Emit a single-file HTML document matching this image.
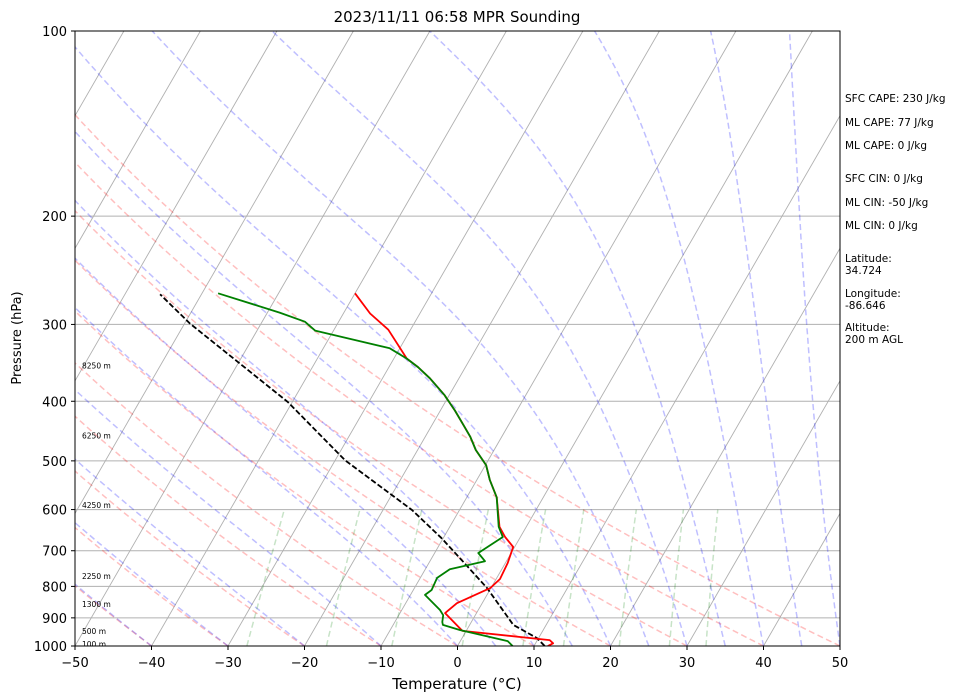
<!DOCTYPE html>
<html><head><meta charset="utf-8"><style>
body{margin:0;background:#fff;}
svg{display:block;font-family:"DejaVu Sans","Liberation Sans",sans-serif;}
</style></head><body>
<svg id="chart" width="961" height="700" viewBox="0 0 961 700">
<defs><clipPath id="clip"><rect x="75" y="31" width="765" height="615"/></clipPath></defs>
<rect x="0" y="0" width="961" height="700" fill="#fff"/>
<g id="bg" clip-path="url(#clip)"></g>
<g id="series" clip-path="url(#clip)"></g>
<rect x="75" y="31" width="765" height="615" fill="none" stroke="#000" stroke-width="1"/>
<g id="axes"></g>
<text x="457" y="22" text-anchor="middle" font-size="15">2023/11/11 06:58 MPR Sounding</text>
<text x="457" y="689" text-anchor="middle" font-size="15">Temperature (°C)</text>
<text x="21" y="338" text-anchor="middle" font-size="13" transform="rotate(-90 21 338)">Pressure (hPa)</text>
<g font-size="10.5">
<text x="845" y="102">SFC CAPE: 230 J/kg</text>
<text x="845" y="126">ML CAPE: 77 J/kg</text>
<text x="845" y="149">ML CAPE: 0 J/kg</text>
<text x="845" y="182">SFC CIN: 0 J/kg</text>
<text x="845" y="206">ML CIN: -50 J/kg</text>
<text x="845" y="229">ML CIN: 0 J/kg</text>
<text x="845" y="262">Latitude:</text>
<text x="845" y="274">34.724</text>
<text x="845" y="297">Longitude:</text>
<text x="845" y="309">-86.646</text>
<text x="845" y="331">Altitude:</text>
<text x="845" y="343">200 m AGL</text>
</g>
</svg>
<script>
const tempP=[1000,990,978,945,884,852,805,778,733,690,665,640,573,537,508,480,457,437,414,391,367,352,341,306,288,267];
const tempT=[11.8,12.3,11.6,-0.5,-4.1,-3.3,-0.1,0.5,0.3,-0.2,-2.0,-3.5,-6.1,-8.3,-9.9,-12.4,-14.1,-15.9,-18.1,-20.6,-23.8,-26.2,-28.3,-32.9,-36.5,-40.0];
const dewP=[1000,982,942,924,914,891,874,826,811,775,750,728,706,665,640,573,537,508,480,457,437,414,391,367,352,341,328,318,307,297,287,267];
const dewT=[7.2,6.2,-0.9,-3.5,-3.8,-4.2,-5.0,-8.1,-7.6,-7.8,-6.8,-2.8,-4.3,-2.3,-3.6,-6.1,-8.3,-9.9,-12.4,-14.1,-15.9,-18.1,-20.6,-23.8,-26.2,-28.3,-31.3,-36.5,-42.4,-44.4,-48.4,-57.9];
const parcelP=[1000,971,924,805,741,668,601,499,401,299,268];
const parcelT=[11.4,9.8,5.7,-0.5,-4.8,-10.2,-16.2,-28.7,-40.6,-59.3,-65.4];
const pTicks=[100,200,300,400,500,600,700,800,900,1000];
const tTicks=[-50,-40,-30,-20,-10,0,10,20,30,40,50];
const heightLabels=["8250 m","6250 m","4250 m","2250 m","1300 m","500 m","100 m"];
const heightLabelP=[350,455,590,770,855,945,993];

const NS="http://www.w3.org/2000/svg";
const X0=75,X1=840,Y0=31,Y1=646,SK=0.577;
function yOf(p){return Y1-(Y1-Y0)*Math.log10(1000/p);}
function xOf(t,p){return X0+(t+50)*(X1-X0)/100+SK*(Y1-yOf(p));}
function mk(tag,attrs,parent){const e=document.createElementNS(NS,tag);for(const k in attrs)e.setAttribute(k,attrs[k]);parent.appendChild(e);return e;}
const bg=document.getElementById('bg'),ser=document.getElementById('series'),ax=document.getElementById('axes');
function path(ps,ts,parent,stroke,w,dash,op,name){
  let d='';for(let i=0;i<ps.length;i++){d+=(i?'L':'M')+xOf(ts[i],ps[i]).toFixed(1)+','+yOf(ps[i]).toFixed(1);}
  const e=mk('path',{d:d,fill:'none',stroke:stroke,'stroke-width':w,'stroke-opacity':op,'stroke-linejoin':'round'},parent);
  if(dash)e.setAttribute('stroke-dasharray',dash);
  
  
  return e;
}
pTicks.forEach(p=>{const l=mk('line',{x1:X0,x2:X1,y1:yOf(p),y2:yOf(p),stroke:'#b0b0b0','stroke-width':1},bg);

});
for(let t=-100;t<=50;t+=10){path([1000,100],[t,t],bg,'#b0b0b0',0.9,null,1,'isotherm');}
const pLev=[];for(let p=1000;p>=100;p-=10)pLev.push(p);
for(let th=-40;th<=50;th+=10){const ts=pLev.map(p=>(th+273.15)*Math.pow(p/1000,0.2857)-273.15);path(pLev,ts,bg,'#ff0000',1.5,'6,3.5',0.25,'dry-adiabat');}
function es(t){return 6.112*Math.exp(17.67*t/(t+243.5));}
const moistT0=[-50,-40,-30,-20,-10,0,5,10,15,20,25,30,35,40,45,50];
moistT0.forEach(t0=>{let T=t0+273.15;const ps=[1000],ts=[t0];
  for(let p=1000;p>100;p-=5){const e=es(T-273.15),rs=0.622*e/(p-e),Rd=287.04,Lv=2.501e6,Cp=1005.7;
    const dTdp=(1/p)*(Rd*T+Lv*rs)/(Cp+Lv*Lv*rs*0.622/(Rd*T*T));T-=dTdp*5;ps.push(p-5);ts.push(T-273.15);}
  path(ps,ts,bg,'#0000ff',1.5,'6,3.5',0.25,'moist-adiabat');});
[0.0004,0.001,0.002,0.004,0.007,0.01,0.016,0.024,0.032].forEach(w=>{const ps=[],ts=[];
  for(let p=1000;p>=600;p-=20){const e=p*w/(0.622+w),l=Math.log(e/6.112);ps.push(p);ts.push(243.5*l/(17.67-l));}
  path(ps,ts,bg,'#008000',1.5,'6,3.5',0.22,'mixing-ratio-line');});
path(parcelP,parcelT,ser,'#000',1.8,'5.5,2.4',1,'parcel-profile');
path(tempP,tempT,ser,'#ff0000',1.8,null,1,'temperature-profile');
path(dewP,dewT,ser,'#008000',1.8,null,1,'dewpoint-profile');
heightLabels.forEach((s,i)=>{const t=mk('text',{x:82,y:yOf(heightLabelP[i])+3,'font-size':7.5},bg);t.textContent=s;

});
pTicks.forEach(p=>{const y=yOf(p);mk('line',{x1:X0-4,x2:X0,y1:y,y2:y,stroke:'#000'},ax);
const t=mk('text',{x:X0-8,y:y+5,'text-anchor':'end','font-size':13},ax);t.textContent=p;

});
tTicks.forEach(v=>{const x=X0+(v+50)*(X1-X0)/100;mk('line',{x1:x,x2:x,y1:Y1,y2:Y1+4,stroke:'#000'},ax);
const t=mk('text',{x:x,y:Y1+21,'text-anchor':'middle','font-size':13},ax);t.textContent=(v<0?'\u2212'+(-v):v);

});
</script>
</body></html>
